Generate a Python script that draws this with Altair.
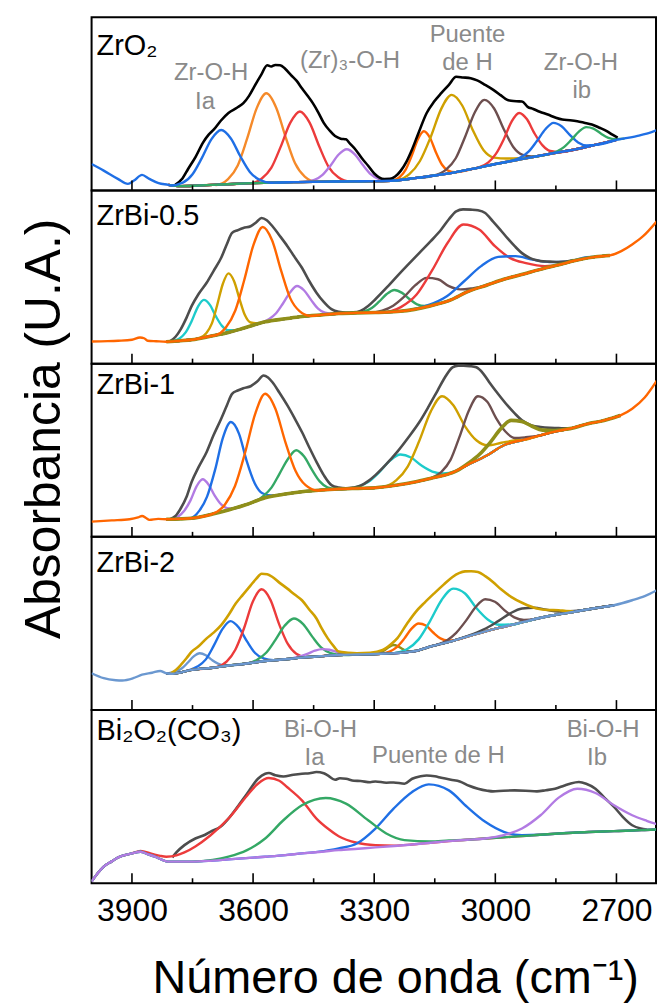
import altair as alt
import pandas as pd

FONT = "Liberation Sans"
PW, PH = 567, 174
X_MIN, X_MAX = 2602, 4000
MAJOR_TICKS = [3900, 3600, 3300, 3000, 2700]
MINOR_TICKS = [3750, 3450, 3150, 2850]

BLACK = "#000000"
GRAY = "#4D4D4D"
BLUE = "#1F6FE5"
ORANGE_L = "#F58A2A"
RED = "#EC3B3B"
PURPLE = "#B27BE3"
ORANGE_D = "#FF6600"
GOLD = "#CFA000"
BROWN = "#6D4F4F"
GREEN = "#34A865"
CYAN = "#1DCBCB"
OLIVE = "#8F8F1A"
STEEL = "#6B98D0"
NOTE = "#8A8A8A"

PANEL_LABELS = ["ZrO₂", "ZrBi-0.5", "ZrBi-1", "ZrBi-2", "Bi₂O₂(CO₃)"]

# ---------------- Panel 1: ZrO2 (wavenumber, absorbance in arbitrary units) ----
zro2_full = [(4000, 26.5), (3970, 19.9), (3935, 11.6), (3910, 6.6), (3895, 9.9), (3875, 15.6),
             (3857, 11.6), (3834, 7.3), (3810, 5.6), (3780, 4.3), (3740, 4.8), (3700, 5.6),
             (3650, 6.5), (3600, 7.3), (3550, 7.8), (3500, 8.3), (3450, 8.6), (3400, 8.9),
             (3350, 9.1), (3300, 9.3), (3250, 9.9), (3200, 12.3), (3150, 15), (3100, 18.2),
             (3050, 22.2), (3000, 26.5), (2950, 30.3), (2900, 34.1), (2850, 37.8), (2800, 41.4),
             (2750, 46), (2700, 50.7), (2650, 54.6), (2625, 57), (2600, 60.6)]
zro2_env = [(3793, 5.6), (3775, 12), (3761, 21.5), (3742, 34), (3724, 48), (3710, 56), (3697, 61.3),
            (3680, 70), (3661, 77.8), (3640, 83), (3624, 87.7), (3610, 95), (3597, 104.3), (3580, 116),
            (3565, 125.8), (3555, 124.5), (3545, 126), (3533, 125.8), (3520, 122), (3506, 115.9),
            (3492, 110), (3479, 102.6), (3465, 95), (3452, 87.7), (3438, 78), (3425, 67.9), (3410, 60),
            (3397, 54.6), (3383, 52), (3370, 51.3), (3360, 47), (3347, 41.4), (3330, 32), (3315, 24.8),
            (3300, 17), (3288, 13.2), (3275, 11.5), (3261, 11.6), (3248, 14), (3234, 19.9), (3220, 29),
            (3206, 41.4), (3190, 58), (3170, 77.8), (3152, 89), (3134, 97.7), (3115, 106), (3097, 114.2),
            (3080, 113.5), (3061, 112.6), (3045, 110.5), (3025, 106), (3005, 101), (2988, 96), (2975, 92),
            (2961, 90), (2948, 89.5), (2934, 89.4), (2920, 84), (2906, 81.8), (2890, 79), (2870, 76.2),
            (2850, 73), (2834, 71.2), (2815, 70.5), (2797, 69.5), (2780, 68), (2761, 66.2), (2742, 63),
            (2724, 59.6), (2710, 56), (2697, 53)]
zro2_p_blue = [(3803, 5), (3774, 7.8), (3750, 16.3), (3727, 32.5), (3703, 51.6), (3679, 60.7),
               (3655, 52.2), (3631, 33.8), (3608, 18.6), (3584, 10.7), (3555, 7.7)]
zro2_p_orange = [(3691, 5.5), (3662, 11.3), (3638, 25.1), (3615, 51.7), (3591, 82.7), (3567, 97.6),
                 (3543, 83.4), (3519, 53.1), (3496, 27.2), (3472, 13.9), (3443, 8.6)]
zro2_p_red = [(3608, 7), (3579, 11.7), (3555, 22.6), (3532, 43.5), (3508, 67.8), (3484, 79.3),
              (3460, 68.1), (3436, 44.1), (3413, 23.7), (3389, 13.2), (3360, 9)]
zro2_p_purple = [(3472, 8.5), (3448, 10.5), (3428, 15.6), (3408, 25.1), (3388, 36.1), (3368, 41.4),
                 (3348, 36.3), (3328, 25.5), (3308, 16.1), (3288, 11.3), (3264, 9.7)]
zro2_p_orange2 = [(3255, 9.9), (3237, 13.3), (3222, 20.9), (3207, 34.9), (3192, 51.2), (3177, 59.4),
                  (3162, 52.9), (3147, 38.2), (3132, 25.8), (3117, 19.9), (3099, 18.2)]
zro2_p_gold = [(3245, 10.1), (3213, 16.3), (3187, 29.3), (3160, 53.7), (3134, 81.9), (3108, 96),
               (3082, 85.3), (3056, 60.8), (3029, 40.4), (3003, 33), (2971, 32), (2940, 32.3)]
zro2_p_brown = [(3151, 15), (3122, 20.8), (3098, 32.3), (3075, 53.7), (3051, 78.3), (3027, 91),
                (3003, 82.3), (2979, 61.5), (2956, 43.9), (2932, 35.7), (2903, 33.9)]
zro2_p_red2 = [(3041, 23.1), (3018, 27.9), (2999, 36.4), (2979, 51.5), (2960, 68.9), (2941, 77.8),
               (2922, 71.7), (2903, 57.3), (2883, 45.2), (2864, 39.6), (2841, 38.5)]
zro2_p_blue2 = [(2963, 29.4), (2938, 33), (2917, 39.2), (2897, 49.6), (2876, 61.5), (2856, 67.9),
                (2836, 64.5), (2815, 55.6), (2795, 48.2), (2774, 45.2), (2749, 45.7)]
zro2_p_green = [(2870, 36.3), (2848, 39.1), (2830, 43.5), (2812, 50.7), (2793, 59), (2775, 63.6),
                (2757, 62.1), (2738, 57), (2720, 52.9), (2702, 51.5), (2680, 52)]
zro2_note_text = ["Zr-O-H", "Ia", "(Zr)₃-O-H", "Puente", "de H", "Zr-O-H", "ib"]
zro2_note_wn = [3704, 3719, 3360, 3069, 3069, 2788, 2786]
zro2_note_h = [118, 89, 130, 156, 128, 128, 100]

# ---------------- Panel 2: ZrBi-0.5 ----------------
zrbi05_full = [(4000, 22.3), (3960, 22.6), (3934, 23), (3900, 24), (3880, 26.3), (3870, 25.5),
               (3861, 23), (3840, 22.5), (3815, 22), (3780, 23), (3752, 24), (3700, 28), (3661, 31.3),
               (3620, 36), (3570, 42), (3520, 45), (3479, 47.3), (3430, 49), (3388, 50.3), (3340, 51),
               (3297, 51.3), (3243, 52.3), (3200, 54.5), (3161, 58), (3110, 64), (3070, 72), (3020, 79),
               (2979, 84.7), (2930, 90), (2888, 94.7), (2840, 99.5), (2797, 104), (2752, 107.3),
               (2716, 108.7), (2688, 113), (2661, 119.7), (2634, 128), (2600, 143)]
zrbi05_env = [(3806, 22.3), (3792, 27), (3779, 34.7), (3765, 46), (3752, 58), (3735, 70), (3715, 81.3),
              (3698, 93), (3679, 106.3), (3665, 120), (3652, 131.3), (3638, 134), (3624, 136.3),
              (3606, 138), (3592, 142), (3579, 146.3), (3566, 144), (3552, 138), (3535, 129), (3515, 118),
              (3497, 107), (3479, 96.3), (3461, 83), (3443, 71.3), (3425, 62), (3406, 54.7), (3388, 52),
              (3370, 51.3), (3352, 51.5), (3334, 53), (3315, 58), (3297, 64.7), (3270, 76), (3243, 88),
              (3215, 100), (3188, 111.3), (3160, 123), (3134, 134.7), (3115, 145), (3097, 153),
              (3080, 155), (3061, 154.7), (3043, 154), (3025, 151.3), (3006, 143), (2988, 134.7),
              (2970, 126), (2952, 118), (2934, 111), (2915, 106.3), (2900, 104), (2888, 103),
              (2865, 102.5), (2843, 102), (2825, 102.5), (2806, 104)]
zrbi05_p_cyan = [(3800, 22.5), (3782, 25.3), (3767, 31.4), (3752, 42.8), (3737, 56.8), (3722, 64),
                 (3707, 59), (3692, 47.4), (3677, 37.9), (3662, 33.5), (3644, 33.5)]
zrbi05_p_gold = [(3733, 25.6), (3716, 30.6), (3702, 40.4), (3689, 58.7), (3675, 80), (3661, 90.7),
                 (3647, 82.8), (3633, 64.1), (3620, 48.5), (3606, 41.3), (3589, 40.5)]
zrbi05_p_orange = [(3694, 28.3), (3667, 36.6), (3644, 53.4), (3622, 83.8), (3599, 119.2), (3576, 137.3),
                   (3553, 123.9), (3530, 92.6), (3508, 65.8), (3485, 52.8), (3458, 48)]
zrbi05_p_purple = [(3581, 41), (3560, 44.9), (3543, 50.6), (3526, 60.4), (3508, 71.8), (3491, 78),
                   (3474, 73.7), (3456, 63.8), (3439, 55.3), (3422, 51.1), (3401, 50)]
zrbi05_p_green = [(3348, 51), (3325, 52.4), (3306, 55.8), (3288, 62.2), (3269, 69.9), (3250, 74),
                  (3231, 71.1), (3212, 64.7), (3194, 59.6), (3175, 57.9), (3152, 59)]
zrbi05_p_brown = [(3313, 51.1), (3280, 53.2), (3253, 58.2), (3225, 67.5), (3198, 78.8), (3170, 86.2),
                  (3142, 84.8), (3115, 77.8), (3087, 74.6), (3060, 75.5), (3027, 78)]
zrbi05_p_red = [(3281, 51.4), (3234, 56.8), (3195, 69.4), (3157, 93.4), (3118, 121.4), (3079, 139.7),
                (3040, 134.7), (3001, 118), (2963, 106), (2924, 101), (2877, 98), (2840, 99.5)]
zrbi05_p_blue = [(3213, 53.8), (3163, 59.2), (3121, 67.5), (3078, 82.5), (3036, 97.7), (2993, 107.2),
                 (2950, 108), (2908, 104.5), (2865, 102), (2823, 102.4), (2773, 107)]

# ---------------- Panel 3: ZrBi-1 ----------------
zrbi1_full = [(4000, 15.3), (3950, 16.5), (3906, 17.7), (3885, 19.5), (3875, 21), (3865, 19), (3857, 17),
              (3835, 18), (3815, 17.7), (3780, 18), (3752, 18.7), (3700, 23), (3661, 27), (3620, 32),
              (3570, 39.3), (3520, 43), (3479, 45.3), (3430, 47), (3388, 48), (3340, 48.7), (3297, 49.3),
              (3243, 52), (3200, 55), (3161, 58.7), (3110, 64), (3070, 72), (3020, 82), (2979, 92),
              (2930, 97.5), (2888, 102), (2850, 106), (2815, 108.7), (2770, 113.7), (2740, 116),
              (2716, 118.7), (2690, 122), (2661, 128.7), (2630, 140), (2600, 157)]
zrbi1_env = [(3806, 17.7), (3792, 21), (3779, 28.7), (3765, 40), (3752, 55.3), (3735, 70), (3715, 85.3),
             (3698, 102), (3679, 118.7), (3665, 132), (3652, 143.7), (3638, 147), (3624, 149.3),
             (3606, 151.3), (3590, 156), (3574, 162), (3563, 160), (3552, 155.3), (3535, 145),
             (3515, 132), (3497, 119), (3479, 105.3), (3461, 90), (3443, 75.3), (3425, 62), (3406, 52),
             (3388, 49.5), (3370, 48.7), (3352, 49.5), (3334, 51.3), (3315, 56), (3297, 62), (3270, 73),
             (3243, 85.3), (3215, 100), (3188, 115.3), (3165, 131), (3143, 147), (3125, 160),
             (3106, 170.3), (3092, 172), (3079, 172), (3063, 171.5), (3047, 170.3), (3030, 164),
             (3015, 155.3), (2992, 143), (2970, 132), (2952, 124), (2934, 117), (2910, 112),
             (2888, 110.3), (2865, 109.5), (2843, 109.3), (2825, 109), (2810, 109)]
zrbi1_p_purple = [(3804, 17.8), (3786, 20.2), (3771, 25.9), (3755, 36.6), (3740, 50.7), (3725, 57.8),
                  (3710, 52.4), (3695, 41.4), (3679, 32.6), (3664, 28.9), (3646, 28.5)]
zrbi1_p_blue = [(3756, 18.6), (3733, 26.3), (3714, 40.4), (3694, 67.5), (3675, 99.2), (3655, 115.3),
                (3635, 103.7), (3616, 76.4), (3596, 53.9), (3577, 43.8), (3554, 41.5), (3530, 42.5)]
zrbi1_p_orange = [(3700, 23), (3670, 32.3), (3645, 50.8), (3620, 84.2), (3595, 123.3), (3570, 143.7),
                  (3545, 128.9), (3520, 95.2), (3495, 66.4), (3470, 51.9), (3440, 46.6)]
zrbi1_p_green = [(3593, 35.9), (3574, 41.2), (3554, 49.7), (3535, 63.1), (3512, 79.2), (3493, 87),
                 (3474, 80.9), (3454, 67.3), (3435, 55.7), (3416, 49.8), (3393, 48)]
zrbi1_p_cyan = [(3372, 48.2), (3340, 50.5), (3314, 55.3), (3288, 64.7), (3261, 76.5), (3235, 82.7),
                (3209, 79.7), (3182, 71.4), (3156, 65.6), (3130, 63.7), (3098, 66)]
zrbi1_p_gold = [(3279, 50), (3245, 56.9), (3217, 70.6), (3189, 95.7), (3160, 125.8), (3132, 141.3),
                (3104, 132.2), (3075, 111), (3047, 97), (3019, 92), (2985, 94.5), (2950, 97)]
zrbi1_p_brown = [(3161, 58.7), (3134, 65.1), (3111, 77.3), (3089, 100.2), (3066, 126.5), (3043, 141.3),
                 (3020, 135.7), (2997, 118.6), (2975, 105.8), (2952, 99.3), (2925, 100), (2888, 102)]
zrbi1_p_olive = [(3096, 66.3), (3065, 74.4), (3039, 82.9), (3013, 94.7), (2987, 108.3), (2961, 117),
                 (2935, 115.9), (2909, 111.1), (2883, 107.2), (2857, 106.7), (2826, 108)]

# ---------------- Panel 4: ZrBi-2 ----------------
zrbi2_full = [(4000, 37), (3970, 32), (3940, 30), (3924, 29.7), (3897, 32), (3875, 35.5), (3850, 37.5),
              (3830, 39.3), (3815, 37), (3800, 36.5), (3752, 40.3), (3700, 42.5), (3661, 44.7),
              (3620, 46.5), (3570, 49.3), (3520, 51), (3479, 52.7), (3430, 54.2), (3388, 55.3),
              (3340, 55.8), (3297, 56.3), (3224, 58), (3190, 60), (3161, 63.7), (3110, 69), (3070, 73.7),
              (3020, 79.5), (2979, 83.7), (2930, 88.5), (2888, 92.7), (2840, 96.3), (2797, 99.3),
              (2750, 102.5), (2706, 105.3), (2661, 110.3), (2630, 114.5), (2600, 120.3)]
zrbi2_env = [(3806, 36.5), (3792, 40), (3779, 45.3), (3765, 52), (3752, 58.7), (3735, 64), (3715, 72),
             (3697, 78), (3679, 85.3), (3660, 96), (3643, 107), (3625, 116), (3606, 125.3), (3592, 132),
             (3579, 137), (3565, 136.5), (3552, 133.7), (3535, 128), (3515, 122), (3497, 116),
             (3479, 110.3), (3461, 101), (3443, 92), (3430, 82), (3415, 72), (3400, 64), (3388, 58.7),
             (3365, 57.5), (3343, 57), (3310, 57.5), (3279, 60.3), (3262, 65), (3243, 72), (3220, 86),
             (3197, 98.7), (3175, 108), (3152, 117), (3128, 126), (3106, 133.7), (3090, 137.5),
             (3075, 139.3), (3060, 139.5), (3043, 138.7), (3025, 134.5), (3006, 128.7), (2985, 121),
             (2961, 113.7), (2930, 107), (2897, 102), (2870, 100.5), (2843, 100.3), (2825, 99.5),
             (2806, 99.3)]
zrbi2_p_steel = [(3810, 37), (3792, 38.5), (3777, 41.7), (3762, 47.5), (3747, 53.9), (3732, 57),
                 (3717, 55), (3702, 50.4), (3687, 46.7), (3672, 45), (3654, 45)]
zrbi2_p_blue = [(3763, 39.5), (3738, 43.7), (3717, 50.9), (3697, 64.9), (3676, 81.3), (3656, 89.3),
                (3636, 83.1), (3615, 69), (3595, 57.3), (3574, 51.8), (3549, 50)]
zrbi2_p_red = [(3691, 43), (3665, 48.9), (3644, 60.6), (3622, 82.7), (3601, 108.5), (3579, 121.3),
               (3557, 110.7), (3536, 86.8), (3514, 66.4), (3493, 56.6), (3467, 53)]
zrbi2_p_green = [(3617, 46.6), (3590, 50.6), (3567, 57.8), (3545, 70.3), (3522, 84.6), (3499, 92),
                 (3476, 86.4), (3453, 73.5), (3431, 62.6), (3408, 57.2), (3381, 55.3)]
zrbi2_p_purple = [(3520, 51), (3499, 52.4), (3482, 54.1), (3464, 56.7), (3447, 59.6), (3429, 61.2),
                  (3411, 60.6), (3394, 58.6), (3376, 56.9), (3359, 56), (3338, 55.9)]
zrbi2_p_olive = [(3304, 56.2), (3292, 56.9), (3282, 58.3), (3272, 60.8), (3262, 63.7), (3252, 65.3),
                 (3242, 64.2), (3232, 61.8), (3222, 59.7), (3212, 59), (3200, 59.3)]
zrbi2_p_orange = [(3284, 56.6), (3262, 58.7), (3244, 63.2), (3226, 71.5), (3208, 81.5), (3190, 87),
                  (3172, 84.9), (3154, 77.9), (3136, 72), (3118, 69.9), (3096, 70.5)]
zrbi2_p_cyan = [(3252, 57.2), (3218, 61.3), (3190, 71), (3161, 89.9), (3133, 110.6), (3104, 122),
                (3075, 117.1), (3047, 102.5), (3018, 90.7), (2990, 85.7), (2956, 86)]
zrbi2_p_brown = [(3150, 65), (3121, 69.7), (3097, 77.6), (3073, 89.6), (3049, 103.3), (3025, 111.3),
                 (3001, 108.8), (2977, 100.2), (2953, 93.1), (2929, 90.5), (2900, 91.5)]
zrbi2_p_dgray = [(3090, 71.5), (3054, 76.6), (3024, 81.9), (2994, 89.1), (2964, 96.9), (2934, 102),
                 (2904, 102.8), (2874, 100.8), (2844, 98.9), (2814, 99.2), (2778, 100.6)]

# ---------------- Panel 5: Bi2O2(CO3) ----------------
bi_full = [(4000, 1.7), (3985, 10), (3970, 16.7), (3950, 22), (3934, 26), (3900, 30), (3879, 31.7),
           (3860, 29), (3843, 26.7), (3825, 23.5), (3811, 21.7), (3752, 21.7), (3700, 22.8), (3661, 24),
           (3600, 25.8), (3570, 26.7), (3520, 28.3), (3479, 30), (3430, 31.7), (3388, 33.3), (3340, 34.7),
           (3297, 36), (3250, 37.5), (3206, 39), (3160, 40.7), (3115, 42.3), (3070, 43.7), (3025, 45),
           (2980, 46.2), (2934, 47.3), (2890, 48.7), (2843, 50), (2800, 51), (2752, 51.7), (2706, 52.4),
           (2661, 53), (2630, 53.5), (2600, 54)]
bi_env = [(3800, 26), (3790, 31), (3770, 38.3), (3743, 45), (3720, 48.5), (3706, 51.7), (3680, 57),
          (3661, 65), (3640, 76), (3615, 90), (3588, 105), (3570, 110), (3561, 110.7), (3545, 108.5),
          (3525, 107.3), (3500, 109), (3479, 110), (3460, 110.5), (3443, 111.7), (3425, 110.5),
          (3415, 108.3), (3397, 104), (3385, 105.5), (3370, 105), (3350, 103), (3334, 102.7),
          (3310, 101.5), (3297, 102.3), (3270, 101), (3252, 101.3), (3225, 100), (3206, 105),
          (3185, 107.5), (3170, 108.3), (3150, 107.5), (3134, 106), (3110, 104), (3088, 102.3),
          (3065, 98), (3043, 95), (3020, 93), (3006, 92.3), (2980, 93), (2952, 93.3), (2925, 93),
          (2897, 92.3), (2875, 93.5), (2852, 95), (2830, 98), (2815, 100), (2793, 101.7), (2775, 100),
          (2752, 95), (2730, 86), (2706, 76.7), (2685, 67), (2661, 58.3), (2640, 55), (2625, 54)]
bi_p_red = [(3879, 32.5), (3850, 29.5), (3830, 27.5), (3815, 26.7), (3790, 28), (3770, 31), (3743, 37),
            (3706, 48), (3661, 65), (3615, 88), (3588, 100), (3561, 105.7), (3535, 103), (3516, 96.7),
            (3479, 83.3), (3443, 65), (3415, 55), (3388, 47.3), (3343, 40.7), (3297, 38.3), (3250, 37.8)]
bi_p_green = [(3700, 23.5), (3661, 26.7), (3615, 33.3), (3570, 45), (3525, 63.3), (3479, 78.3),
              (3420, 85.7), (3370, 80), (3315, 63.3), (3270, 50), (3225, 43.3), (3161, 42), (3115, 43)]
bi_p_blue = [(3440, 31.5), (3388, 35), (3343, 40), (3297, 55), (3252, 75), (3206, 91.7), (3165, 99.3),
             (3115, 93.3), (3070, 76.7), (3025, 61.7), (2979, 51.7), (2934, 48.3), (2888, 48.8),
             (2843, 50)]
bi_p_purple = [(3070, 43.7), (3025, 45), (2979, 48.3), (2934, 55), (2888, 68.3), (2843, 86), (2797, 95),
               (2752, 90.7), (2706, 78.3), (2661, 68.3), (2625, 62.7), (2600, 59.3)]
bi_note_text = ["Bi-O-H", "Ia", "Puente de H", "Bi-O-H", "Ib"]
bi_note_wn = [3433, 3448, 3141, 2733, 2748]
bi_note_h = [154, 126, 128, 154, 126]


def fit_base(full, hi=3815, lo=2690):
    return [p for p in full if lo <= p[0] <= hi]


def merge(peak, base):
    lo = min(p[0] for p in peak)
    hi = max(p[0] for p in peak)
    pts = [p for p in base if p[0] > hi or p[0] < lo] + list(peak)
    return sorted(pts, key=lambda p: p[0], reverse=True)


def x_enc(bottom):
    scale = alt.Scale(domain=[X_MIN, X_MAX], reverse=True, nice=False, zero=False)
    if bottom:
        axis = alt.Axis(values=MAJOR_TICKS, format="d", ticks=False, domain=False, grid=False,
                        labelFontSize=32, labelFont=FONT, labelColor="black", labelPadding=12,
                        title="Número de onda (cm⁻¹)", titleFont=FONT, titleFontSize=47,
                        titleFontWeight="normal", titleColor="black", titlePadding=30, titleX=305)
        return alt.X("wn:Q", scale=scale, axis=axis)
    return alt.X("wn:Q", scale=scale, axis=None)


def y_enc(with_title):
    scale = alt.Scale(domain=[0, PH], nice=False, zero=False)
    if with_title:
        axis = alt.Axis(title="Absorbancia (U.A.)", labels=False, ticks=False, domain=False, grid=False,
                        titleFont=FONT, titleFontSize=50, titleFontWeight="normal", titleColor="black",
                        titlePadding=22, titleY=65)
        return alt.Y("h:Q", scale=scale, axis=axis)
    return alt.Y("h:Q", scale=scale, axis=None)


def panel(curves, label, label_y, bottom=False, ytitle=False, notes=None):
    xe = x_enc(bottom)
    ye = y_enc(ytitle)
    layers = []
    for pts, color, width in curves:
        df = pd.DataFrame(pts, columns=["wn", "h"])
        layers.append(alt.Chart(df).mark_line(color=color, strokeWidth=width, interpolate="monotone",
                                              clip=True)
                      .encode(x=xe, y=ye))
    if notes is not None:
        ndf = pd.DataFrame({"t": notes[0], "wn": notes[1], "h": notes[2]})
        layers.append(alt.Chart(ndf).mark_text(font=FONT, fontSize=24, color=NOTE, align="center",
                                              baseline="middle")
                      .encode(x=xe, y=ye, text="t:N"))
    tmaj = pd.DataFrame({"wn": MAJOR_TICKS})
    tmin = pd.DataFrame({"wn": MINOR_TICKS})
    layers.append(alt.Chart(tmaj).mark_rule(color="black", strokeWidth=1.6)
                  .encode(x=xe, y=alt.value(PH), y2=alt.value(PH - 10)))
    layers.append(alt.Chart(tmin).mark_rule(color="black", strokeWidth=1.6)
                  .encode(x=xe, y=alt.value(PH), y2=alt.value(PH - 5)))
    ldf = pd.DataFrame({"t": [label]})
    layers.append(alt.Chart(ldf).mark_text(font=FONT, fontSize=29, color="black", align="left",
                                          baseline="alphabetic")
                  .encode(text="t:N", x=alt.value(5), y=alt.value(label_y)))
    return alt.layer(*layers).properties(width=PW, height=PH)


W = 2.4
zb1 = fit_base(zro2_full)
p1 = panel([
    (merge(zro2_p_orange, zb1), ORANGE_L, W),
    (merge(zro2_p_red, zb1), RED, W),
    (merge(zro2_p_purple, zb1), PURPLE, W),
    (merge(zro2_p_orange2, zb1), ORANGE_D, W),
    (merge(zro2_p_gold, zb1), GOLD, W),
    (merge(zro2_p_brown, zb1), BROWN, W),
    (merge(zro2_p_red2, zb1), RED, W),
    (merge(zro2_p_blue2, zb1), BLUE, W),
    (merge(zro2_p_green, zb1), GREEN, W),
    (zro2_env, BLACK, 2.6),
    (merge(zro2_p_blue, zro2_full), BLUE, W),
], PANEL_LABELS[0], 38, notes=(zro2_note_text, zro2_note_wn, zro2_note_h))

zb2 = fit_base(zrbi05_full)
p2 = panel([
    (merge(zrbi05_p_cyan, zb2), CYAN, W),
    (merge(zrbi05_p_gold, zb2), GOLD, W),
    (merge(zrbi05_p_purple, zb2), PURPLE, W),
    (merge(zrbi05_p_green, zb2), GREEN, W),
    (merge(zrbi05_p_brown, zb2), BROWN, W),
    (merge(zrbi05_p_red, zb2), RED, W),
    (merge(zrbi05_p_blue, zb2), BLUE, W),
    (zrbi05_env, GRAY, 2.6),
    (zb2, OLIVE, 3.6),
    (merge(zrbi05_p_orange, zrbi05_full), ORANGE_D, W),
], PANEL_LABELS[1], 35)

zb3 = fit_base(zrbi1_full)
p3 = panel([
    (merge(zrbi1_p_purple, zb3), PURPLE, W),
    (merge(zrbi1_p_blue, zb3), BLUE, W),
    (merge(zrbi1_p_green, zb3), GREEN, W),
    (merge(zrbi1_p_cyan, zb3), CYAN, W),
    (merge(zrbi1_p_gold, zb3), GOLD, W),
    (merge(zrbi1_p_brown, zb3), BROWN, W),
    (zrbi1_env, GRAY, 2.6),
    (merge(zrbi1_p_olive, zb3), OLIVE, 3.6),
    (merge(zrbi1_p_orange, zrbi1_full), ORANGE_D, W),
], PANEL_LABELS[2], 31, ytitle=True)

zb4 = fit_base(zrbi2_full)
p4 = panel([
    (merge(zrbi2_p_steel, zb4), STEEL, W),
    (merge(zrbi2_p_blue, zb4), BLUE, W),
    (merge(zrbi2_p_red, zb4), RED, W),
    (merge(zrbi2_p_green, zb4), GREEN, W),
    (merge(zrbi2_p_purple, zb4), PURPLE, W),
    (merge(zrbi2_p_olive, zb4), OLIVE, W),
    (merge(zrbi2_p_orange, zb4), ORANGE_D, W),
    (merge(zrbi2_p_cyan, zb4), CYAN, W),
    (merge(zrbi2_p_brown, zb4), BROWN, W),
    (merge(zrbi2_p_dgray, zb4), GRAY, W),
    (zrbi2_env, GOLD, 2.6),
    (zrbi2_full, STEEL, W),
], PANEL_LABELS[3], 35)

p5 = panel([
    (bi_env, GRAY, 2.6),
    (merge(bi_p_red, bi_full), RED, W),
    (merge(bi_p_blue, bi_full), BLUE, W),
    (merge(bi_p_green, bi_full), GREEN, W),
    (merge(bi_p_purple, bi_full), PURPLE, W),
], PANEL_LABELS[4], 30, bottom=True, notes=(bi_note_text, bi_note_wn, bi_note_h))

chart = alt.vconcat(p1, p2, p3, p4, p5, spacing=0, bounds="flush").properties(
    padding={"left": 18, "top": 14, "right": 2, "bottom": 0}
).configure_view(stroke="black", strokeWidth=2)

chart.save("out.html", embed_options={"renderer": "svg", "actions": False})
